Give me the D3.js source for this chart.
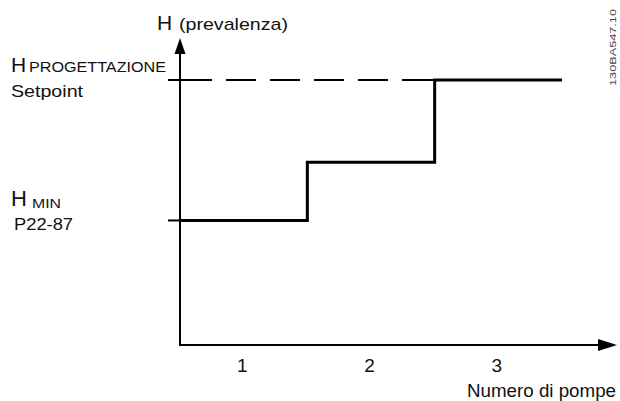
<!DOCTYPE html>
<html>
<head>
<meta charset="utf-8">
<script src="https://cdn.jsdelivr.net/npm/d3@7"></script>
<style>
  html, body { margin: 0; padding: 0; background: #fff; }
  svg { display: block; }
  text { font-family: "Liberation Sans", Arial, sans-serif; fill: #111; }
</style>
</head>
<body>
<svg id="chart" width="620" height="401"></svg>
<script>
// ---- data ----
const pumps = [1, 2, 3];                 // number of pumps (categories)
const headLevels = [47, 69, 100];        // head reached with 1, 2, 3 pumps (% of setpoint)
const setpoint = 100;                    // H design / setpoint
const hMin = 47;                         // H min (P22-87)
const tickLabels = ["1", "2", "3"];
const xTitle = "Numero di pompe";
const yTitle = "(prevalenza)";
const docCode = "130BA547.10";

// ---- layout ----
const svg = d3.select("#chart");
const x = d3.scaleLinear().domain([0.5, 3.5]).range([180, 562]);
const y = d3.scaleLinear().domain([0, 100]).range([345, 80]);
const axisX0 = x(0.5), axisY0 = y(0);
const xAxisEnd = 617, yAxisTop = 38;

// step line data
const stepData = pumps.map((p, i) => ({ x: p - 0.5, v: headLevels[i] }));
stepData.push({ x: pumps[pumps.length - 1] + 0.5, v: headLevels[headLevels.length - 1] });

// dashed setpoint reference (from left tick to where setpoint is reached)
const reachIdx = headLevels.indexOf(setpoint);
svg.append("line")
  .attr("x1", axisX0 - 12).attr("x2", x(pumps[reachIdx] - 0.5))
  .attr("y1", y(setpoint)).attr("y2", y(setpoint))
  .attr("stroke", "#000").attr("stroke-width", 2)
  .attr("stroke-dasharray", "44,14,30,14,30,14,30,14,30,14,36");

// H min tick
svg.append("line")
  .attr("x1", axisX0 - 12).attr("x2", axisX0)
  .attr("y1", y(hMin)).attr("y2", y(hMin))
  .attr("stroke", "#000").attr("stroke-width", 2);

// axes
svg.append("line")
  .attr("x1", axisX0).attr("x2", axisX0)
  .attr("y1", axisY0 + 1).attr("y2", yAxisTop + 10)
  .attr("stroke", "#000").attr("stroke-width", 2);
svg.append("line")
  .attr("x1", axisX0 - 1).attr("x2", xAxisEnd - 12)
  .attr("y1", axisY0).attr("y2", axisY0)
  .attr("stroke", "#000").attr("stroke-width", 2);
// arrowheads
svg.append("path")
  .attr("d", `M${axisX0},${yAxisTop} L${axisX0 - 5.5},${yAxisTop + 16} L${axisX0 + 5.5},${yAxisTop + 16} Z`)
  .attr("fill", "#000");
svg.append("path")
  .attr("d", `M${xAxisEnd},${axisY0} L${xAxisEnd - 19},${axisY0 - 6} L${xAxisEnd - 19},${axisY0 + 6} Z`)
  .attr("fill", "#000");

// step line
svg.append("path")
  .datum(stepData)
  .attr("d", d3.line().x(d => x(d.x)).y(d => y(d.v)).curve(d3.curveStepAfter))
  .attr("fill", "none").attr("stroke", "#000").attr("stroke-width", 3)
  .attr("stroke-linejoin", "miter");

// tick labels via axis
const xAxis = d3.axisBottom(x).tickValues(pumps).tickFormat((d, i) => tickLabels[i]).tickSize(0).tickPadding(0);
const gx = svg.append("g").attr("transform", `translate(-2,${axisY0 + 27})`).call(xAxis);
gx.select(".domain").remove();
gx.selectAll("text").attr("font-size", 19).attr("dy", 0)
  .style("font-family", "'Liberation Sans', Arial, sans-serif").attr("fill", "#111");

function label(xp, yp, size, txt, len) {
  const t = svg.append("text").attr("x", xp).attr("y", yp).attr("font-size", size).text(txt);
  if (len) t.attr("textLength", len).attr("lengthAdjust", "spacingAndGlyphs");
  return t;
}

// axis titles
label(467, 397, 18, xTitle, 149);
label(157, 30, 21, "H");
label(179, 30, 17, yTitle, 109);

// left labels
label(11, 72, 21, "H");
label(29, 72, 15, "PROGETTAZIONE", 137);
label(11, 97, 17, "Setpoint", 72);

label(11, 206, 22, "H");
label(32, 208, 12.5, "MIN", 29);
label(14, 230, 17, "P22-87", 59);

// document code
svg.append("text")
  .attr("transform", "translate(616,86) rotate(-90)")
  .attr("font-size", 9.5).style("fill", "#444")
  .attr("textLength", 77).attr("lengthAdjust", "spacingAndGlyphs")
  .text(docCode);
</script>
</body>
</html>
